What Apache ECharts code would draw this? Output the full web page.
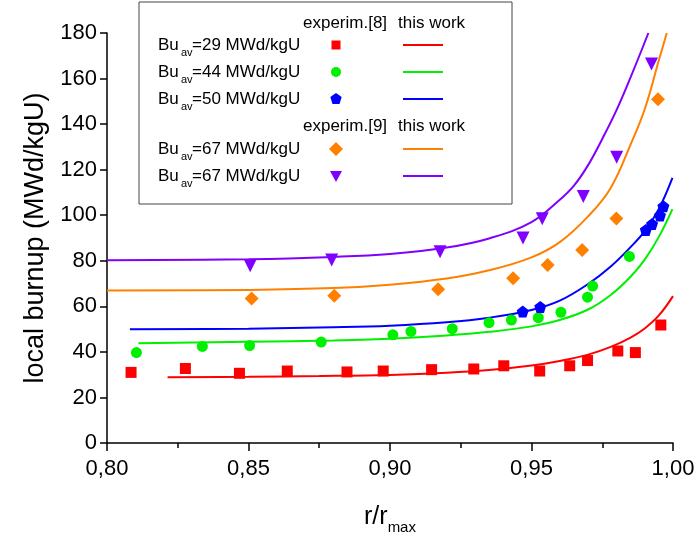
<!DOCTYPE html>
<html>
<head>
<meta charset="utf-8">
<script src="https://cdn.jsdelivr.net/npm/echarts@6/dist/echarts.min.js"></script>
<style>
html,body{margin:0;padding:0;background:#fff;}
#chart{width:698px;height:540px;}
</style>
</head>
<body>
<div id="chart"></div>
<script>
// ---- data ----
var xTicks = [0.80, 0.85, 0.90, 0.95, 1.00];
var yTicks = [0, 20, 40, 60, 80, 100, 120, 140, 160, 180];

var exp29 = [[0.8085,31.0],[0.8277,32.7],[0.8468,30.6],[0.8637,31.6],[0.8848,31.2],[0.8976,31.6],[0.9147,32.2],[0.9296,32.5],[0.9402,33.9],[0.9529,31.6],[0.9635,33.9],[0.9698,36.2],[0.9805,40.4],[0.9867,39.7],[0.9957,51.8]];
var exp44 = [[0.8104,39.7],[0.8337,42.4],[0.8504,42.8],[0.8757,44.3],[0.9010,47.5],[0.9074,49.0],[0.9220,50.2],[0.9350,52.8],[0.9429,54.0],[0.9524,55.0],[0.9604,57.4],[0.9698,64.0],[0.9716,68.9],[0.9846,81.9]];
var exp50 = [[0.9469,57.7],[0.9531,59.7],[0.9904,93.5],[0.9926,96.1],[0.9954,99.9],[0.9966,103.9]];
var exp67a = [[0.8511,63.4],[0.8803,64.7],[0.9170,67.5],[0.9435,72.3],[0.9557,78.1],[0.9679,84.7],[0.9800,98.6],[0.9947,150.9]];
var exp67b = [[0.8506,77.8],[0.8794,80.3],[0.9177,84.0],[0.9470,90.0],[0.9538,98.5],[0.9683,108.2],[0.9801,125.4],[0.9924,166.4]];

var calc29 = [[0.8214,28.9],[0.850,29.1],[0.875,29.4],[0.900,29.9],[0.920,30.8],[0.935,32.0],[0.950,34.0],[0.960,36.0],[0.970,38.8],[0.978,42.2],[0.985,46.3],[0.990,50.3],[0.995,56.0],[1.000,64.5]];
var calc44 = [[0.8111,43.8],[0.850,44.5],[0.880,45.0],[0.900,45.8],[0.920,47.2],[0.935,48.8],[0.950,51.2],[0.960,54.0],[0.970,58.6],[0.978,65.0],[0.985,73.0],[0.990,80.5],[0.995,90.5],[0.9998,102.7]];
var calc50 = [[0.8081,49.9],[0.850,50.2],[0.880,50.8],[0.900,51.5],[0.920,53.0],[0.935,55.0],[0.950,58.4],[0.960,62.5],[0.970,69.8],[0.978,77.5],[0.985,86.0],[0.990,93.0],[0.995,102.8],[0.9998,116.4]];
var calc67a = [[0.800,66.9],[0.850,67.2],[0.880,68.0],[0.900,69.5],[0.920,72.2],[0.935,75.8],[0.950,81.5],[0.960,88.2],[0.970,99.5],[0.978,112.0],[0.985,131.0],[0.990,146.5],[0.995,168.0],[0.9978,180.0]];
var calc67b = [[0.800,80.2],[0.850,80.7],[0.880,81.7],[0.900,83.0],[0.920,85.8],[0.935,89.8],[0.950,97.0],[0.960,106.8],[0.965,113.0],[0.970,122.0],[0.975,133.5],[0.980,146.0],[0.985,160.5],[0.9913,180.0]];

var seriesNames = ['Bu=29', 'Bu=44', 'Bu=50', 'Bu=67 [9] a', 'Bu=67 [9] b'];
var legendValues = ['29', '44', '50', '67', '67'];
var colors = ['#ff0000', '#00f000', '#0000ff', '#ff8000', '#8000ff'];

var FONT = '"Liberation Sans", Arial, Helvetica, sans-serif';
var pentagon = 'path://M0,-1 L0.951,-0.309 L0.588,0.809 L-0.588,0.809 L-0.951,-0.309 Z';

var expData = [exp29, exp44, exp50, exp67a, exp67b];
var calcData = [calc29, calc44, calc50, calc67a, calc67b];
var symbols = ['rect', 'circle', pentagon, 'diamond', 'triangle'];
var symSizes = [11, 11, 12, 14, 13];
var symRot = [0, 0, 0, 0, 180];

var series = [];
for (var i = 0; i < 5; i++) {
  series.push({
    name: seriesNames[i] + ' calc', type: 'line', data: calcData[i],
    showSymbol: false, smooth: 0.4,
    lineStyle: {color: colors[i], width: 2}, z: 3, silent: true
  });
}
for (var j = 0; j < 5; j++) {
  series.push({
    name: seriesNames[j] + ' exp', type: 'scatter', data: expData[j],
    symbol: symbols[j], symbolSize: symSizes[j], symbolRotate: symRot[j],
    itemStyle: {color: colors[j], opacity: 1}, z: 4, silent: true
  });
}

// ---- legend drawn as graphic elements ----
var lg = [];
var boxX = 139, boxY = 2, boxW = 373, boxH = 202;
lg.push({type: 'rect', shape: {x: boxX, y: boxY, width: boxW, height: boxH},
  style: {fill: '#fff', stroke: '#444', lineWidth: 1}, z: 10});
function header(y, ref) {
  lg.push({type: 'text', x: 303, y: y, style: {text: 'experim.' + ref, font: '17px ' + FONT, fill: '#000', textVerticalAlign: 'middle'}, z: 11});
  lg.push({type: 'text', x: 398, y: y, style: {text: 'this work', font: '17px ' + FONT, fill: '#000', textVerticalAlign: 'middle'}, z: 11});
}
header(23, '[8]');
header(126, '[9]');
var rowY = [45, 72, 99, 149, 176];
for (var k = 0; k < 5; k++) {
  var y = rowY[k];
  lg.push({type: 'text', x: 158, y: y, style: {text: 'Bu', font: '17px ' + FONT, fill: '#000', textVerticalAlign: 'middle'}, z: 11});
  lg.push({type: 'text', x: 181, y: y + 8, style: {text: 'av', font: '11px ' + FONT, fill: '#000', textVerticalAlign: 'middle'}, z: 11});
  lg.push({type: 'text', x: 192, y: y, style: {text: '=' + legendValues[k] + ' MWd/kgU', font: '17px ' + FONT, fill: '#000', textVerticalAlign: 'middle'}, z: 11});
  lg.push({type: 'line', shape: {x1: 403, y1: y, x2: 443, y2: y}, style: {stroke: colors[k], lineWidth: 2}, z: 11});
  var cx = 336;
  if (k === 0) lg.push({type: 'rect', shape: {x: cx - 4.5, y: y - 4.5, width: 9, height: 9}, style: {fill: colors[k]}, z: 11});
  if (k === 1) lg.push({type: 'circle', shape: {cx: cx, cy: y, r: 5}, style: {fill: colors[k]}, z: 11});
  if (k === 2) lg.push({type: 'polygon', shape: {points: [[cx, y - 6], [cx + 5.7, y - 1.9], [cx + 3.5, y + 4.9], [cx - 3.5, y + 4.9], [cx - 5.7, y - 1.9]]}, style: {fill: colors[k]}, z: 11});
  if (k === 3) lg.push({type: 'polygon', shape: {points: [[cx, y - 7], [cx + 7, y], [cx, y + 7], [cx - 7, y]]}, style: {fill: colors[k]}, z: 11});
  if (k === 4) lg.push({type: 'polygon', shape: {points: [[cx - 6, y - 5], [cx + 6, y - 5], [cx, y + 6]]}, style: {fill: colors[k]}, z: 11});
}

var chart = echarts.init(document.getElementById('chart'), null, {renderer: 'canvas'});
chart.setOption({
  animation: false,
  backgroundColor: '#fff',
  grid: {left: 107, right: 25, top: 33, bottom: 91, containLabel: false},
  xAxis: {
    type: 'value', min: xTicks[0], max: xTicks[xTicks.length - 1], interval: 0.05,
    name: 'r/r{s|max}', nameLocation: 'middle', nameGap: 57,
    nameTextStyle: {fontFamily: FONT, fontSize: 25, color: '#000',
      rich: {s: {fontFamily: FONT, fontSize: 15, color: '#000', padding: [20, 0, 0, 0]}}},
    axisLine: {lineStyle: {color: '#000', width: 1.5}},
    axisTick: {show: true, inside: false, length: 8, lineStyle: {color: '#000', width: 1.5}},
    minorTick: {show: true, splitNumber: 2, length: 5, lineStyle: {color: '#000', width: 1.5}},
    axisLabel: {fontFamily: FONT, fontSize: 22, color: '#000', margin: 15,
      formatter: function (v) { return v.toFixed(2).replace('.', ','); }},
    splitLine: {show: false}
  },
  yAxis: {
    type: 'value', min: yTicks[0], max: yTicks[yTicks.length - 1], interval: 20,
    name: 'local burnup (MWd/kgU)', nameLocation: 'middle', nameGap: 58,
    nameTextStyle: {fontFamily: FONT, fontSize: 27, color: '#000'},
    axisLine: {show: true, lineStyle: {color: '#000', width: 1.5}},
    axisTick: {show: true, inside: false, length: 7, lineStyle: {color: '#000', width: 1.5}},
    axisLabel: {fontFamily: FONT, fontSize: 22, color: '#000', margin: 10},
    splitLine: {show: false}
  },
  series: series,
  graphic: lg
});
</script>
</body>
</html>
